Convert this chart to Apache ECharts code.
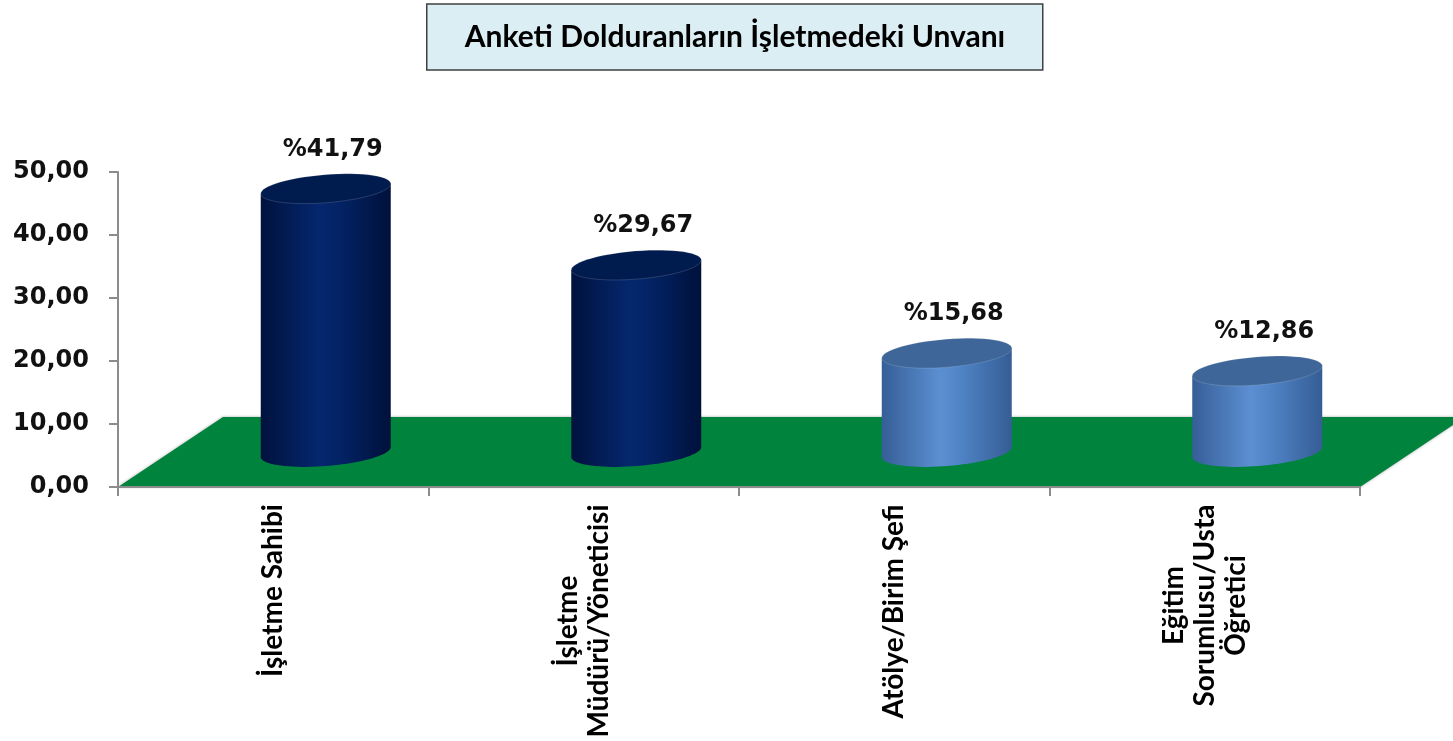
<!DOCTYPE html>
<html>
<head>
<meta charset="utf-8">
<script src="https://cdn.jsdelivr.net/npm/echarts@6/dist/echarts.min.js"></script>
<style>
  html, body { margin: 0; padding: 0; background: #fff; }
  #chart { width: 1453px; height: 741px; }
</style>
</head>
<body>
<div id="chart"></div>
<script>
const titleText = 'Anketi Dolduranların İşletmedeki Unvanı'
const categories = ['İşletme Sahibi', 'İşletme\nMüdürü/Yöneticisi', 'Atölye/Birim Şefi', 'Eğitim\nSorumlusu/Usta\nÖğretici']
const values = [41.79, 29.67, 15.68, 12.86]
const yMin = 0
const yMax = 50
const yStep = 10

// floor depth (px) and cylinder look
const floorDX = 105
const floorDY = -70
const tilt = -0.08
const navy = { body: ['#00123d', '#05276e', '#032366', '#00113b'], top: '#001b4e' }
const light = { body: ['#365e97', '#5c8fd2', '#5084c6', '#355d95'], top: '#3f6699' }

const labelFont = { fontFamily: 'Lato', fontWeight: 'bold', fontSize: 28 }
const ctx = document.createElement('canvas').getContext('2d')
ctx.font = 'bold 28px Lato'
const rich = {}
categories.forEach((c, i) => {
  const w = Math.max(...c.split('\n').map(l => ctx.measureText(l).width))
  rich['c' + i] = { ...labelFont, width: Math.ceil(w), align: 'center', lineHeight: 31, color: '#000' }
})

ctx.font = 'bold 30px Lato'
const titleW = ctx.measureText(titleText).width
const titlePadH = Math.max(10, (616 - titleW) / 2)

const fmt = v => v.toFixed(2).replace('.', ',')

function ellipsePt (cx, cy, rx, ry, t) {
  const c = Math.cos(tilt)
  const s = Math.sin(tilt)
  const ex = rx * Math.cos(t)
  const ey = ry * Math.sin(t)
  return [cx + ex * c - ey * s, cy + ex * s + ey * c]
}

function renderFloor (params, api) {
  const cs = params.coordSys
  const x0 = cs.x
  const x1 = cs.x + cs.width
  const y0 = cs.y + cs.height
  return {
    type: 'polygon',
    shape: { points: [[x0, y0], [x1, y0], [x1 + floorDX, y0 + floorDY], [x0 + floorDX, y0 + floorDY]] },
    style: { fill: '#00843d', shadowBlur: 3, shadowColor: 'rgba(0,0,0,0.35)' }
  }
}

function renderCylinder (params, api) {
  const i = api.value(0)
  const v = api.value(1)
  const base = api.coord([i, 0])
  const top = api.coord([i, v])
  const band = api.size([1, 0])[0]
  const rx = band * 0.21
  const ry = 14
  const cx = base[0] + floorDX / 2
  const by = base[1] + floorDY / 2
  const ty = top[1] + floorDY / 2
  const pal = i < 2 ? navy : light

  const body = [ellipsePt(cx, ty, rx, ry, Math.PI)]
  for (let k = 0; k <= 40; k++) {
    body.push(ellipsePt(cx, by, rx, ry, Math.PI - Math.PI * k / 40))
  }
  body.push(ellipsePt(cx, ty, rx, ry, 0))
  const cap = []
  for (let k = 0; k < 60; k++) cap.push(ellipsePt(cx, ty, rx, ry, Math.PI * 2 * k / 60))

  return {
    type: 'group',
    children: [
      {
        type: 'polygon',
        shape: { points: body },
        style: {
          fill: new echarts.graphic.LinearGradient(0, 0, 1, 0, [
            { offset: 0, color: pal.body[0] },
            { offset: 0.45, color: pal.body[1] },
            { offset: 0.6, color: pal.body[2] },
            { offset: 1, color: pal.body[3] }
          ])
        }
      },
      {
        type: 'polygon',
        shape: { points: cap },
        style: { fill: pal.top, stroke: 'rgba(255,255,255,0.15)', lineWidth: 1 }
      },
      {
        type: 'text',
        style: {
          text: '%' + fmt(v),
          x: cx + 7,
          y: ty - 39,
          align: 'center',
          verticalAlign: 'middle',
          fontFamily: 'DejaVu Sans',
          fontWeight: 'bold',
          fontSize: 24,
          fill: '#111'
        }
      }
    ]
  }
}

const chart = echarts.init(document.getElementById('chart'))
chart.setOption({
  animation: false,
  backgroundColor: '#fff',
  title: {
    text: titleText,
    left: 427,
    top: 4,
    padding: [18, titlePadH],
    backgroundColor: '#dbeef4',
    borderColor: '#404040',
    borderWidth: 1.5,
    textStyle: { fontFamily: 'Lato', fontWeight: 'bold', fontSize: 30, lineHeight: 30, color: '#000' }
  },
  grid: { left: 118, right: 93, top: 172, bottom: 253 },
  xAxis: {
    type: 'category',
    data: categories,
    z: 3,
    axisLine: { lineStyle: { color: '#8c8c8c', width: 2 } },
    axisTick: { show: true, length: 9, lineStyle: { color: '#8c8c8c', width: 2 } },
    axisLabel: {
      interval: 0,
      rotate: 90,
      margin: 17,
      formatter: (val, idx) => val.split('\n').map(l => '{c' + idx + '|' + l + '}').join('\n'),
      rich
    }
  },
  yAxis: {
    type: 'value',
    min: yMin,
    max: yMax,
    interval: yStep,
    z: 3,
    splitLine: { show: false },
    axisLine: { show: true, lineStyle: { color: '#8c8c8c', width: 2 } },
    axisTick: { show: true, length: 9, lineStyle: { color: '#8c8c8c', width: 2 } },
    axisLabel: {
      margin: 29,
      formatter: v => fmt(v),
      fontFamily: 'DejaVu Sans',
      fontWeight: 'bold',
      fontSize: 24,
      color: '#111'
    }
  },
  series: [
    { type: 'custom', z: 1, clip: false, renderItem: renderFloor, data: [[0]], silent: true },
    { type: 'custom', z: 2, clip: false, renderItem: renderCylinder, data: values.map((v, i) => [i, v]) }
  ]
})
</script>
</body>
</html>
